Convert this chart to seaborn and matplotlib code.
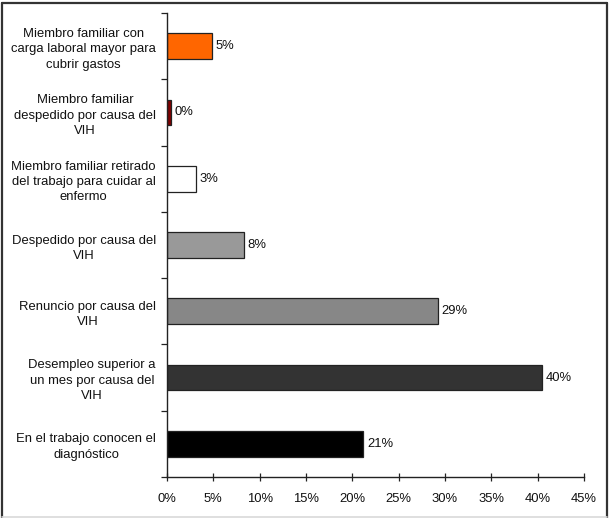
import matplotlib
matplotlib.use("Agg")
import matplotlib.pyplot as plt
from matplotlib.lines import Line2D
import seaborn as sns
import pandas as pd

categories = [
    "Miembro familiar con\ncarga laboral mayor para\ncubrir gastos",
    "Miembro familiar\ndespedido por causa del\nVIH",
    "Miembro familiar retirado\ndel trabajo para cuidar al\nenfermo",
    "Despedido por causa del\nVIH",
    "Renuncio por causa del\nVIH",
    "Desempleo superior a\nun mes por causa del\nVIH",
    "En el trabajo conocen el\ndiagnóstico",
]
values = [4.9, 0.4, 3.1, 8.3, 29.2, 40.5, 21.2]
bar_colors = ["#FF6600", "#800000", "#FFFFFF", "#999999", "#878787", "#333333", "#000000"]
x_ticks = [0, 5, 10, 15, 20, 25, 30, 35, 40, 45]

sns.set_theme(style="white")
plt.rcParams["font.family"] = ["Liberation Sans", "DejaVu Sans"]

FS = 9.4

df = pd.DataFrame({"categoria": categories, "valor": values})

W, H = 610, 518
fig = plt.figure(figsize=(W / 100, H / 100), dpi=100)
fig.patch.set_facecolor("white")
ax = fig.add_axes([167 / W, 1 - 477 / H, (584 - 167) / W, (477 - 13) / H])

sns.barplot(
    data=df, y="categoria", x="valor", hue="categoria",
    palette=bar_colors, saturation=1, orient="h", width=0.39, legend=False,
    edgecolor="#222222", linewidth=0.9, ax=ax,
)

for cont in ax.containers:
    ax.bar_label(cont, fmt=lambda v: f"{v:.0f}%", padding=2.5,
                 fontsize=FS, color="#111111")

ax.set_xlim(0, 45)
ax.set_ylim(len(categories) - 0.5, -0.5)
ax.set_xlabel("")
ax.set_ylabel("")

ax.set_xticks(x_ticks)
ax.set_xticklabels([f"{t}%" for t in x_ticks], fontsize=FS, color="#111111")
ax.tick_params(axis="x", which="major", direction="inout", length=6, width=0.9,
               color="#222222", pad=8.5, bottom=True)

# category boundaries carry the tick marks, centers carry the labels
ax.set_yticks([i - 0.5 for i in range(len(categories) + 1)])
ax.set_yticklabels([])
ax.set_yticks(range(len(categories)), minor=True)
ax.set_yticklabels(categories, minor=True, fontsize=FS, color="#111111")
ax.tick_params(axis="y", which="major", direction="out", length=4, width=0.9,
               color="#222222", left=True)
ax.tick_params(axis="y", which="minor", length=0, pad=8)
for lab in ax.get_yticklabels(minor=True):
    lab.set_multialignment("center")
    lab.set_linespacing(1.38)

for side in ["top", "right"]:
    ax.spines[side].set_visible(False)
for side in ["left", "bottom"]:
    ax.spines[side].set_color("#222222")
    ax.spines[side].set_linewidth(1.0)
ax.grid(False)

# outer frame
def fx(px):
    return px / W

def fy(py):
    return 1 - py / H

frame = dict(color="#333333", linewidth=1.6, transform=fig.transFigure)
fig.add_artist(Line2D([fx(1.5), fx(1.5)], [fy(3), fy(518)], **frame))
fig.add_artist(Line2D([fx(1.5), fx(606.5)], [fy(3), fy(3)], **frame))
fig.add_artist(Line2D([fx(606.5), fx(606.5)], [fy(3), fy(518)], **frame))
fig.add_artist(Line2D([fx(1.5), fx(606.5)], [fy(516.5), fy(516.5)],
                      color="#d9d9d9", linewidth=1.2, transform=fig.transFigure))

fig.savefig("out.png", dpi=100, facecolor="white")
